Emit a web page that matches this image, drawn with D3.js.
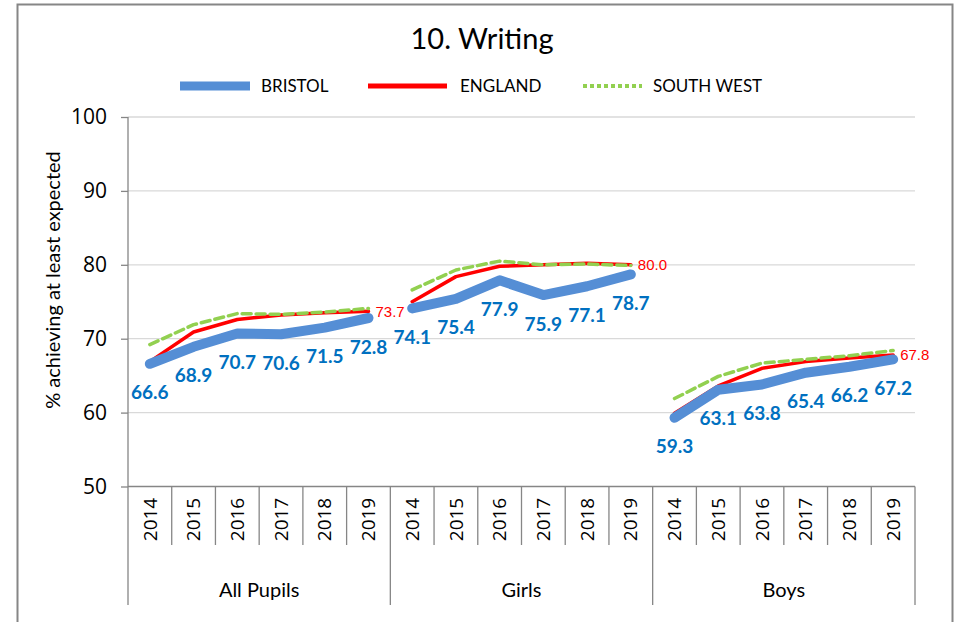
<!DOCTYPE html>
<html>
<head>
<meta charset="utf-8">
<script src="https://cdn.jsdelivr.net/npm/d3@7"></script>
<style>
  body { margin: 0; background: #fff; }
  svg text { font-family: Lato, "Open Sans", sans-serif; }
</style>
</head>
<body>
<svg id="chart" width="961" height="622"></svg>
<script>
(function (d3) {
  'use strict';

  // chart data
  const groups = ['All Pupils', 'Girls', 'Boys'];
  const years = ['2014', '2015', '2016', '2017', '2018', '2019'];
  const bristol = [
    [66.6, 68.9, 70.7, 70.6, 71.5, 72.8],
    [74.1, 75.4, 77.9, 75.9, 77.1, 78.7],
    [59.3, 63.1, 63.8, 65.4, 66.2, 67.2]
  ];
  const england = [
    [66.9, 70.9, 72.6, 73.2, 73.5, 73.7],
    [75.0, 78.4, 79.8, 80.0, 80.2, 80.0],
    [59.9, 63.6, 66.0, 66.9, 67.4, 67.8]
  ];
  const southWest = [
    [69.2, 71.9, 73.4, 73.3, 73.6, 74.1],
    [76.6, 79.3, 80.5, 80.0, 80.1, 79.9],
    [61.9, 64.9, 66.7, 67.2, 67.7, 68.4]
  ];
  const yTicks = [50, 60, 70, 80, 90, 100];

  const BLUE = '#558ED5';
  const RED = '#FF0000';
  const GREEN = '#92D050';
  const LABEL_BLUE = '#0070C0';
  const AXIS = '#868686';
  const GRID = '#D9D9D9';

  const svg = d3.select('#chart');

  const left = 128, right = 915, top = 117, bottom = 486.5;

  // outer frame
  svg.append('rect')
    .attr('x', 17.5).attr('y', 4.5)
    .attr('width', 935).attr('height', 660)
    .attr('fill', 'none').attr('stroke', AXIS).attr('stroke-width', 2);

  const cats = [];
  groups.forEach((g) => years.forEach((yr) => cats.push(g + '|' + yr)));

  const x = d3.scaleBand().domain(cats).range([left, right]);
  const y = d3.scaleLinear().domain([50, 100]).range([bottom, top]);

  // title
  svg.append('text')
    .attr('x', 482).attr('y', 49)
    .attr('text-anchor', 'middle')
    .style('font-size', '29px')
    .text('10. Writing');

  // legend
  const legend = [
    { name: 'BRISTOL', color: BLUE, width: 9, dash: null, x1: 180, x2: 250, tx: 261 },
    { name: 'ENGLAND', color: RED, width: 5, dash: null, x1: 368, x2: 447, tx: 460 },
    { name: 'SOUTH WEST', color: GREEN, width: 4, dash: '4,3', x1: 583, x2: 642, tx: 653 }
  ];
  const lg = svg.append('g');
  legend.forEach((l) => {
    lg.append('line')
      .attr('x1', l.x1).attr('x2', l.x2).attr('y1', 86).attr('y2', 86)
      .attr('stroke', l.color).attr('stroke-width', l.width)
      .attr('stroke-dasharray', l.dash);
    lg.append('text')
      .attr('x', l.tx).attr('y', 86).attr('dy', '0.35em')
      .style('font-size', '17px')
      .text(l.name);
  });

  // gridlines
  svg.append('g')
    .selectAll('line')
    .data(yTicks.filter((t) => t !== 50))
    .enter()
    .append('line')
    .attr('x1', left).attr('x2', right)
    .attr('y1', (t) => y(t)).attr('y2', (t) => y(t))
    .attr('stroke', GRID).attr('stroke-width', 1.3);

  // y axis
  const yAxis = svg.append('g')
    .attr('transform', `translate(${left},0)`)
    .call(d3.axisLeft(y).tickValues(yTicks).tickSize(7).tickPadding(14));
  yAxis.select('.domain').remove();
  yAxis.selectAll('.tick line').attr('stroke', AXIS).attr('stroke-width', 1.3);
  yAxis.selectAll('.tick text')
    .attr('fill', '#000')
    .style('font-family', '"Open Sans", sans-serif')
    .style('font-size', '21px');

  svg.append('line')
    .attr('x1', left).attr('x2', left).attr('y1', top).attr('y2', 605)
    .attr('stroke', AXIS).attr('stroke-width', 1.3);
  svg.append('line')
    .attr('x1', left).attr('x2', right).attr('y1', bottom).attr('y2', bottom)
    .attr('stroke', AXIS).attr('stroke-width', 1.3);

  // y title
  svg.append('text')
    .attr('transform', 'translate(53,280) rotate(-90)')
    .attr('text-anchor', 'middle')
    .attr('dy', '0.35em')
    .style('font-size', '20px')
    .text('% achieving at least expected');

  // x axis: year dividers, year labels, group dividers, group labels
  const bw = x.bandwidth();
  svg.append('g')
    .selectAll('line')
    .data(cats.slice(1).filter((c, i) => (i + 1) % years.length !== 0))
    .enter()
    .append('line')
    .attr('x1', (c) => x(c)).attr('x2', (c) => x(c))
    .attr('y1', bottom).attr('y2', 545)
    .attr('stroke', AXIS).attr('stroke-width', 1.3);

  svg.append('g')
    .selectAll('text')
    .data(cats)
    .enter()
    .append('text')
    .attr('transform', (c) => `translate(${x(c) + bw / 2},${bottom + 33}) rotate(-90)`)
    .attr('text-anchor', 'middle')
    .attr('dy', '0.35em')
    .style('font-family', '"Open Sans", sans-serif')
    .style('font-size', '19px')
    .text((c) => c.split('|')[1]);

  const groupEdges = groups.map((g) => x(g + '|' + years[0])).concat([right]);
  svg.append('g')
    .selectAll('line')
    .data(groupEdges.slice(1))
    .enter()
    .append('line')
    .attr('x1', (d) => d).attr('x2', (d) => d)
    .attr('y1', bottom).attr('y2', 605)
    .attr('stroke', AXIS).attr('stroke-width', 1.3);

  svg.append('g')
    .selectAll('text')
    .data(groups)
    .enter()
    .append('text')
    .attr('x', (g, i) => (groupEdges[i] + groupEdges[i + 1]) / 2)
    .attr('y', 590).attr('dy', '0.35em')
    .attr('text-anchor', 'middle')
    .style('font-size', '20px')
    .text((g) => g);

  // series lines, one segment per group
  const px = (gi, i) => x(groups[gi] + '|' + years[i]) + bw / 2;
  const line = (gi) => d3.line()
    .x((v, i) => px(gi, i))
    .y((v) => y(v));

  const series = [
    { data: england, color: RED, width: 3.5, dash: null },
    { data: southWest, color: GREEN, width: 3.5, dash: '9,5' },
    { data: bristol, color: BLUE, width: 10, dash: null }
  ];
  series.forEach((s) => {
    svg.append('g')
      .selectAll('path')
      .data(s.data)
      .enter()
      .append('path')
      .attr('d', (vals, gi) => line(gi)(vals))
      .attr('fill', 'none')
      .attr('stroke', s.color)
      .attr('stroke-width', s.width)
      .attr('stroke-dasharray', s.dash)
      .attr('stroke-linejoin', 'round')
      .attr('stroke-linecap', 'round');
  });

  // Bristol labels under each point
  const blue = [];
  bristol.forEach((vals, gi) => vals.forEach((v, i) => blue.push({ gi, i, v })));
  svg.append('g')
    .selectAll('text')
    .data(blue)
    .enter()
    .append('text')
    .attr('x', (d) => px(d.gi, d.i))
    .attr('y', (d) => y(d.v) + 29)
    .attr('dy', '0.35em')
    .attr('text-anchor', 'middle')
    .attr('fill', LABEL_BLUE)
    .style('font-size', '19px')
    .style('font-weight', 'bold')
    .text((d) => d.v.toFixed(1));

  // England label at the last point of each group
  svg.append('g')
    .selectAll('text')
    .data(england)
    .enter()
    .append('text')
    .attr('x', (vals, gi) => px(gi, years.length - 1) + 7)
    .attr('y', (vals) => y(vals[vals.length - 1]))
    .attr('dy', '0.35em')
    .attr('fill', RED)
    .style('font-family', '"Liberation Sans Narrow", "Liberation Sans", sans-serif')
    .style('font-size', '15px')
    .text((vals) => vals[vals.length - 1].toFixed(1));

}(d3));
</script>
</body>
</html>
